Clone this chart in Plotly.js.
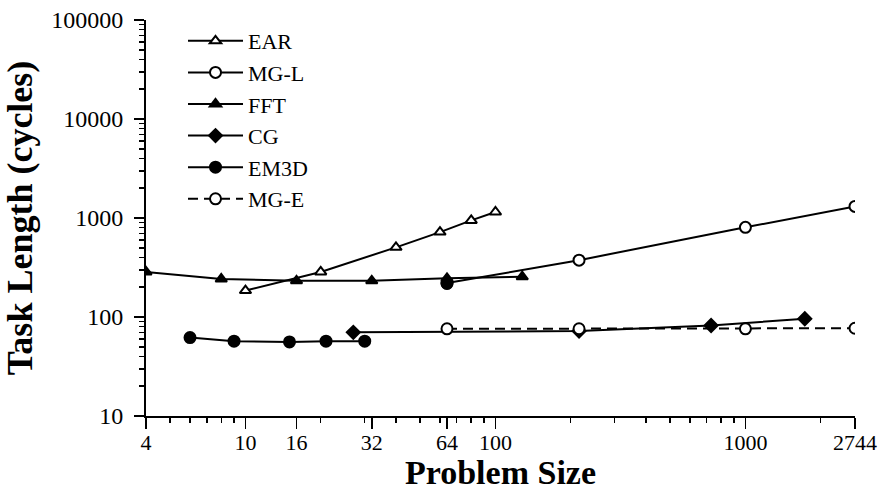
<!DOCTYPE html>
<html>
<head>
<meta charset="utf-8">
<script src="https://cdn.plot.ly/plotly-3.0.1.min.js"></script>
<style>html,body{margin:0;padding:0;background:#fff;}#chart{width:882px;height:491px;}</style>
</head>
<body>
<div id="chart"></div>
<script>
// ---- data ----
var earX = [10, 20, 40, 60, 80, 100];
var earY = [185, 285, 505, 720, 945, 1150];

var mglX = [64, 216, 1000, 2744];
var mglY = [220, 375, 805, 1310];

var fftX = [4, 8, 16, 32, 64, 128];
var fftY = [285, 242, 232, 232, 246, 255];

var cgX = [27, 216, 729, 1728];
var cgY = [70, 72, 82, 96];

var em3dX = [6, 9, 15, 21, 30, 45, 64];
var em3dY = [62, 57, 56, 57, 57, null, 218];

var mgeX = [64, 216, 1000, 2744];
var mgeY = [76, 76, 76, 77];

var xTickVals = [4, 10, 16, 32, 64, 100, 1000, 2744];
var xTickText = ['4', '10', '16', '32', '64', '100', '1000', '2744'];
var yTickVals = [10, 100, 1000, 10000, 100000];
var yTickText = ['10', '100', '1000', '10000', '100000'];

var xMinor = [5,6,7,8,9,20,30,40,50,60,70,80,90,200,300,400,500,600,700,800,900,2000];
var yMinor = [];
[10,100,1000,10000].forEach(function(d){ for (var k=2;k<=9;k++) yMinor.push(k*d); });

var FONT = 'Liberation Serif, Times New Roman, serif';
var BLACK = '#000';

function tr(name, x, y, symbol, fill, dash, size) {
  return {
    type: 'scatter', mode: 'lines+markers', name: name, x: x, y: y,
    connectgaps: false,
    line: {color: BLACK, width: 2, dash: dash},
    marker: {symbol: symbol, size: size, color: fill,
             line: {color: BLACK, width: 2}}
  };
}

var data = [
  tr('EAR', earX, earY, 'triangle-up', '#fff', 'solid', 10),
  tr('MG-L', mglX, mglY, 'circle', '#fff', 'solid', 11),
  tr('FFT', fftX, fftY, 'triangle-up', BLACK, 'solid', 10),
  tr('CG', cgX, cgY, 'diamond', BLACK, 'solid', 10),
  tr('EM3D', em3dX, em3dY, 'circle', BLACK, 'solid', 11),
  tr('MG-E', mgeX, mgeY, 'circle', '#fff', '10px,6px', 11)
];

var layout = {
  width: 882, height: 491,
  margin: {l: 146, r: 27, t: 20, b: 75},
  paper_bgcolor: '#fff', plot_bgcolor: '#fff',
  font: {family: FONT, color: BLACK, size: 22},
  showlegend: true,
  legend: {x: 0.0522, y: 1.0, xanchor: 'left', yanchor: 'top',
           font: {family: FONT, size: 22, color: BLACK},
           bgcolor: 'rgba(0,0,0,0)', itemwidth: 55, tracegroupgap: 0},
  xaxis: {
    type: 'log', range: [Math.log10(4), Math.log10(2744)],
    tickmode: 'array', tickvals: xTickVals, ticktext: xTickText,
    ticks: 'outside', ticklen: 11, tickwidth: 1.5, tickcolor: BLACK,
    ticklabelstandoff: -5,
    minor: {tickmode: 'array', tickvals: xMinor, ticks: 'outside', ticklen: 5, tickwidth: 1.5, tickcolor: BLACK, showgrid: false},
    showline: true, linecolor: BLACK, linewidth: 2,
    showgrid: false, zeroline: false, automargin: false,
    tickfont: {family: FONT, size: 22, color: BLACK},
    title: {text: 'Problem Size', font: {family: FONT, size: 34, weight: 'bold', color: BLACK}, standoff: 8}
  },
  yaxis: {
    type: 'log', range: [1, 5],
    tickmode: 'array', tickvals: yTickVals, ticktext: yTickText,
    ticks: 'outside', ticklen: 10, tickwidth: 1.5, tickcolor: BLACK,
    ticklabelstandoff: 6,
    minor: {tickmode: 'array', tickvals: yMinor, ticks: 'outside', ticklen: 5, tickwidth: 1.5, tickcolor: BLACK, showgrid: false},
    showline: true, linecolor: BLACK, linewidth: 2,
    showgrid: false, zeroline: false, automargin: false,
    tickfont: {family: FONT, size: 24, color: BLACK},
    title: {text: 'Task Length (cycles)', font: {family: FONT, size: 36, weight: 'bold', color: BLACK}, standoff: 10}
  }
};

Plotly.newPlot('chart', data, layout, {displayModeBar: false, staticPlot: true});
</script>
</body>
</html>
